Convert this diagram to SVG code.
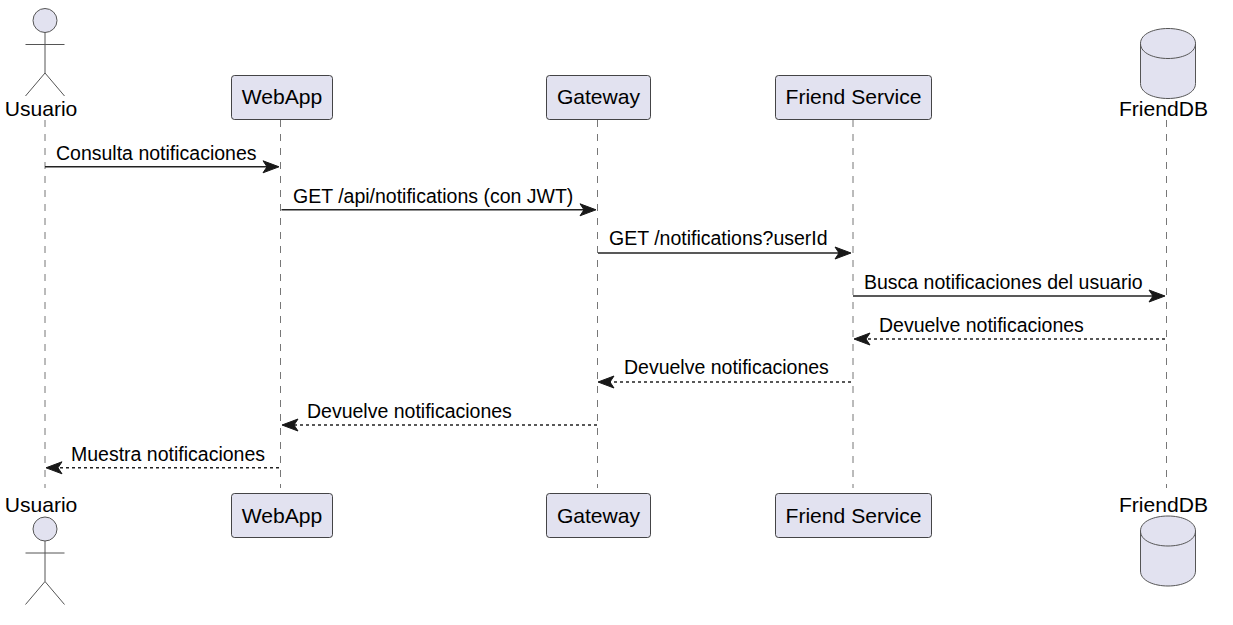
<svg xmlns="http://www.w3.org/2000/svg" width="1233" height="625" viewBox="0 0 1233 625">
<style>
text{font-family:"Liberation Sans",Arial,sans-serif;font-size:19.5px;fill:#000}
.t{text-anchor:middle;font-size:21.1px}
.box{fill:#E2E2F0;stroke:#181818;stroke-width:.8}
.shape{fill:#E2E2F0;stroke:#555;stroke-width:1}
.act{fill:none;stroke:#555;stroke-width:1}
.life{stroke:#777;stroke-width:1;stroke-dasharray:7,7;fill:none}
.m{stroke:#222;stroke-width:1.6;fill:none}
.d{stroke-dasharray:3,3}
.h{fill:#181818;stroke:#181818;stroke-width:1}
</style>
<defs>
<g id="actor"><circle class="shape" cx="0" cy="20.500" r="12"/><path class="act" d="M0 32.500V73M-19.500 44.500H19.500M-19.500 96L0 73L19.500 96"/></g>
<g id="db"><path class="shape" d="M-27.500 15C-27.500 5 -13.500 0 0 0S27.500 5 27.500 15V55C27.500 65 13.500 70 0 70S-27.500 65 -27.500 55Z"/><path class="act" d="M-27.500 15C-27.500 25 -13.500 30 0 30S27.500 25 27.500 15"/></g>
</defs>
<rect width="1233" height="625" fill="#fff"/>
<g id="lifelines">
<path class="life" d="M45 120V488"/><path class="life" d="M280.500 120V488"/><path class="life" d="M597.500 120V488"/><path class="life" d="M853 120V488"/><path class="life" d="M1166.500 120V488"/>
</g>
<g id="connectors">
<path class="m" d="M45 166.800H272"/><path class="h" d="M263 160.800L279 166.800L263 172.800L267 166.800Z"/>
<path class="m" d="M281.500 209.800H589"/><path class="h" d="M580 203.800L596 209.800L580 215.800L584 209.800Z"/>
<path class="m" d="M598 253H844"/><path class="h" d="M835 247L851 253L835 259L839 253Z"/>
<path class="m" d="M853 296H1158"/><path class="h" d="M1149 290L1165 296L1149 302L1153 296Z"/>
<path class="m d" d="M1165 339H862"/><path class="h" d="M870 333L854 339L870 345L866 339Z"/>
<path class="m d" d="M851 382H606"/><path class="h" d="M614 376L598 382L614 388L610 382Z"/>
<path class="m d" d="M597 425H290"/><path class="h" d="M298 419L282 425L298 431L294 425Z"/>
<path class="m d" d="M279 467.800H54"/><path class="h" d="M62 461.800L46 467.800L62 473.800L58 467.800Z"/>
<text x="56" y="160">Consulta notificaciones</text>
<text x="293" y="203">GET /api/notifications (con JWT)</text>
<text x="609" y="245">GET /notifications?userId</text>
<text x="864" y="289">Busca notificaciones del usuario</text>
<text x="879" y="332">Devuelve notificaciones</text>
<text x="624" y="374">Devuelve notificaciones</text>
<text x="307" y="418">Devuelve notificaciones</text>
<text x="71" y="461">Muestra notificaciones</text>
</g>
<g id="usuario-top"><use href="#actor" x="45" y="0"/><text class="t" x="41" y="116">Usuario</text></g>
<g id="webapp-top"><rect class="box" x="231.500" y="75.500" width="101" height="44" rx="3"/><text class="t" x="282" y="104">WebApp</text></g>
<g id="gateway-top"><rect class="box" x="546.500" y="75.500" width="104" height="44" rx="3"/><text class="t" x="598.500" y="104">Gateway</text></g>
<g id="friend-top"><rect class="box" x="775.500" y="75.500" width="156" height="44" rx="3"/><text class="t" x="853.500" y="104">Friend Service</text></g>
<g id="db-top"><use href="#db" x="1168" y="28.500"/><text class="t" x="1163.500" y="116">FriendDB</text></g>
<g id="usuario-bottom"><text class="t" x="41" y="512">Usuario</text><use href="#actor" x="45" y="508.500"/></g>
<g id="webapp-bottom"><rect class="box" x="231.500" y="493.500" width="101" height="44" rx="3"/><text class="t" x="282" y="523">WebApp</text></g>
<g id="gateway-bottom"><rect class="box" x="546.500" y="493.500" width="104" height="44" rx="3"/><text class="t" x="598.500" y="523">Gateway</text></g>
<g id="friend-bottom"><rect class="box" x="775.500" y="493.500" width="156" height="44" rx="3"/><text class="t" x="853.500" y="523">Friend Service</text></g>
<g id="db-bottom"><text class="t" x="1163.500" y="512">FriendDB</text><use href="#db" x="1168" y="516"/></g>
</svg>
